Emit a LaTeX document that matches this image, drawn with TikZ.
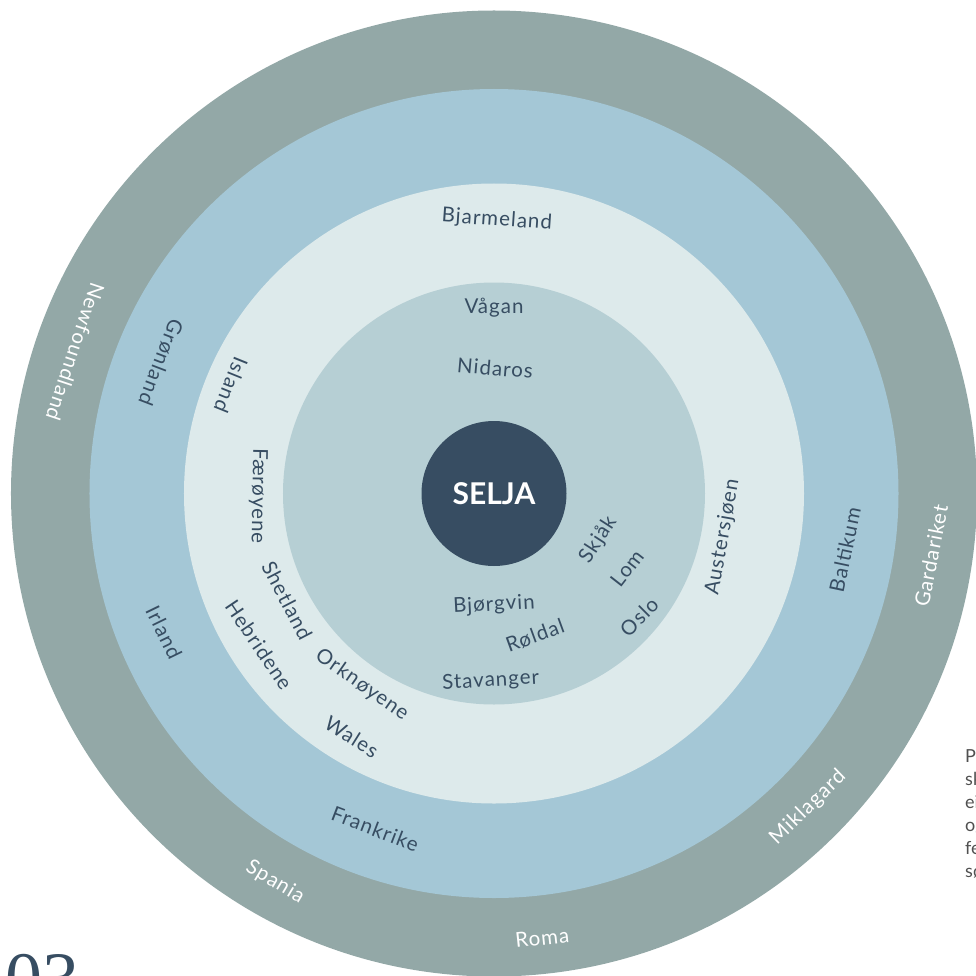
\documentclass[tikz,border=0pt]{standalone}
\usepackage{fontspec}
\setmainfont{Lato}
\newfontfamily\placefont[LetterSpace=5]{Lato}
\newfontfamily\numberfont{Liberation Serif}

\definecolor{outerring}{HTML}{93A8A7}
\definecolor{bluering}{HTML}{A4C7D6}
\definecolor{lightring}{HTML}{DDEAEB}
\definecolor{innerring}{HTML}{B6CFD4}
\definecolor{slate}{HTML}{374D62}
\definecolor{notegray}{HTML}{505050}

\begin{document}
\begin{tikzpicture}[x=1pt, y=1pt,
    placename/.style ={text=slate, inner sep=0pt, font=\placefont\fontsize{20.5}{20.5}\selectfont},
    outername/.style ={placename, text=white}]
   \useasboundingbox (-494,-481.5) rectangle (482,493.5);

   % rings
   \fill[outerring] (0,0) circle (483pt);
   \fill[bluering]  (0,0) circle (404.5pt);
   \fill[lightring] (0,0) circle (310pt);
   \fill[innerring] (0,0) circle (211pt);
   \node[circle, fill=slate, minimum size=145pt, inner sep=0pt, text=white,
         font=\fontsize{30}{30}\selectfont\bfseries] (selja) at (0,0) {SELJA};

   % inner
   \node[placename, rotate=0]   (vagan)     at (90:186)     {Vågan};
   \node[placename, rotate=-5]  (nidaros)   at (89.5:125.5) {Nidaros};
   \node[placename, rotate=3]   (bjorgvin)  at (-90:111.5)  {Bjørgvin};
   \node[placename, rotate=20]  (roldal)    at (-73.9:148)  {Røldal};
   \node[placename, rotate=3]   (stavanger) at (-91:187.5)  {Stavanger};
   \node[placename, rotate=57]  (skjak)     at (-24:114)    {Skjåk};
   \node[placename, rotate=52]  (lom)       at (-29.3:152.5) {Lom};
   \node[placename, rotate=45]  (oslo)      at (-40.4:190.5) {Oslo};

   % light ring
   \node[placename, rotate=-4]   (bjarmeland) at (89.4:273.5)  {Bjarmeland};
   \node[placename, rotate=-112] (island)     at (157.6:284.5) {Island};
   \node[placename, rotate=-91]  (faroyene)   at (180.6:236)   {Færøyene};
   \node[placename, rotate=-62.5] (shetland)  at (207.4:233)   {Shetland};
   \node[placename, rotate=-56]  (hebridene)  at (212.8:279.6) {Hebridene};
   \node[placename, rotate=-35]  (orknoyene)  at (235.4:232.6) {Orknøyene};
   \node[placename, rotate=-32]  (wales)      at (239.7:282)   {Wales};
   \node[placename, rotate=80]   (austersjoen) at (-10.8:233)  {Austersjøen};

   % blue ring
   \node[placename, rotate=-111] (gronland)  at (158.5:358) {Grønland};
   \node[placename, rotate=-64]  (irland)    at (202.8:358) {Irland};
   \node[placename, rotate=-21]  (frankrike) at (250.5:356) {Frankrike};
   \node[placename, rotate=78]   (baltikum)  at (-9.1:355.5) {Baltikum};

   % outer ring
   \node[outername, rotate=-108.5] (newfoundland) at (161.3:442) {Newfoundland};
   \node[outername, rotate=79]  (gardariket) at (-8.1:441.5) {Gardariket};
   \node[outername, rotate=44]  (miklagard)  at (-45:444)    {Miklagard};
   \node[outername, rotate=6]   (roma)       at (-83.8:447)  {Roma};
   \node[outername, rotate=-31] (spania)     at (240.6:446)  {Spania};

   % margins
   \node[anchor=north west, inner sep=0pt, align=left, text=notegray,
         font=\fontsize{18}{23}\selectfont] (note) at (471,-255.5) {Pl\\sk\\ei\\og\\fe\\sø};
   \node[anchor=base west, inner sep=0pt, text=slate,
         font=\numberfont\fontsize{74}{74}\selectfont] (chapter) at (-489,-510) {03};
 \end{tikzpicture}
\end{document}
